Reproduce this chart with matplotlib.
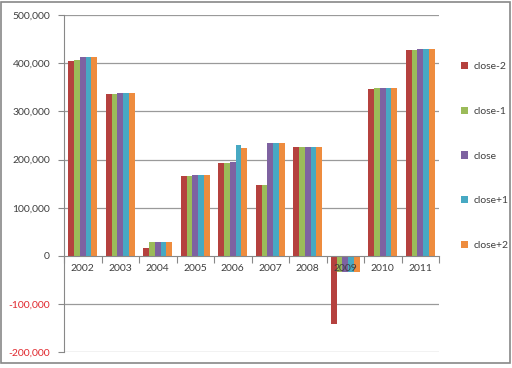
import numpy as np
import matplotlib
matplotlib.use("Agg")
import matplotlib.pyplot as plt
from matplotlib.patches import Rectangle
from matplotlib.ticker import FuncFormatter

plt.rcParams['font.family'] = ['Lato', 'DejaVu Sans']

years = ['2002', '2003', '2004', '2005', '2006', '2007', '2008', '2009', '2010', '2011']
series = ['close-2', 'close-1', 'close', 'close+1', 'close+2']

close_m2 = [403700, 336000, 15800, 165000, 192000, 148000, 227000, -141000, 345600, 427000]
close_m1 = [407000, 336000, 28000, 165000, 192000, 148000, 227000, -33000, 349000, 427000]
close_0 = [412000, 338000, 28000, 168000, 195700, 233600, 227000, -33000, 349000, 430000]
close_p1 = [412000, 338000, 28000, 168000, 230000, 233600, 227000, -33000, 349000, 430000]
close_p2 = [412000, 338000, 28000, 168000, 223000, 233600, 227000, -34000, 349000, 430000]

colors = ['#B5413E', '#9BBB59', '#7E62A1', '#47A9C3', '#EE8C3E']

fig = plt.figure(figsize=(5.12, 3.68), dpi=100)
ax = fig.add_axes([64 / 512, 1 - 352.3 / 368, 375 / 512, (352.3 - 15) / 368])

x = np.arange(len(years))
w = 0.155
for i, (name, vals) in enumerate(zip(series, [close_m2, close_m1, close_0, close_p1, close_p2])):
    ax.bar(x + (i - 2) * w, vals, w, color=colors[i], label=name, zorder=2)

ax.set_xlim(-0.5, len(years) - 0.5)
ax.set_ylim(-200000, 500000)

# gridlines behind the bars, axis (labels, spines) on top like Excel
yt = np.arange(-200000, 500001, 100000)
for v in yt:
    if v != 0:
        ax.axhline(v, color='#9a9a9a', linewidth=0.9, zorder=0)
ax.set_axisbelow(False)

# y axis
ax.set_yticks(yt)
ax.yaxis.set_major_formatter(FuncFormatter(lambda v, p: '{:,.0f}'.format(v)))
ax.tick_params(axis='y', length=4, width=0.8, color='#888888', labelsize=7.5, pad=6)
for t in ax.get_yticklabels():
    if t.get_text().startswith('-') or t.get_text().startswith('\u2212'):
        t.set_color('#E0282E')
    else:
        t.set_color('#404040')

# x axis sits on zero
ax.spines['bottom'].set_position(('data', 0))
ax.spines['bottom'].set_color('#888888')
ax.spines['left'].set_color('#888888')
ax.spines['top'].set_visible(False)
ax.spines['right'].set_visible(False)
ax.set_xticks(np.arange(-0.5, len(years), 1.0))
ax.set_xticklabels([])
ax.set_xticks(x, minor=True)
ax.set_xticklabels(years, minor=True)
ax.tick_params(axis='x', which='major', length=5, width=0.8, color='#888888')
ax.tick_params(axis='x', which='minor', length=0, labelsize=7.5, labelcolor='#404040', pad=6)

fig.legend(loc='center left', bbox_to_anchor=(0.882, 0.576), frameon=False,
           fontsize=7.5, labelspacing=3.4, handlelength=0.7, handleheight=0.7,
           handletextpad=0.5, labelcolor='#404040')

# outer chart frame
fig.patches.append(Rectangle((1 / 512, 5 / 368), 509 / 512, 361 / 368,
                             transform=fig.transFigure, fill=False,
                             edgecolor='#888888', linewidth=1.2))

fig.savefig('out.png', dpi=100)
